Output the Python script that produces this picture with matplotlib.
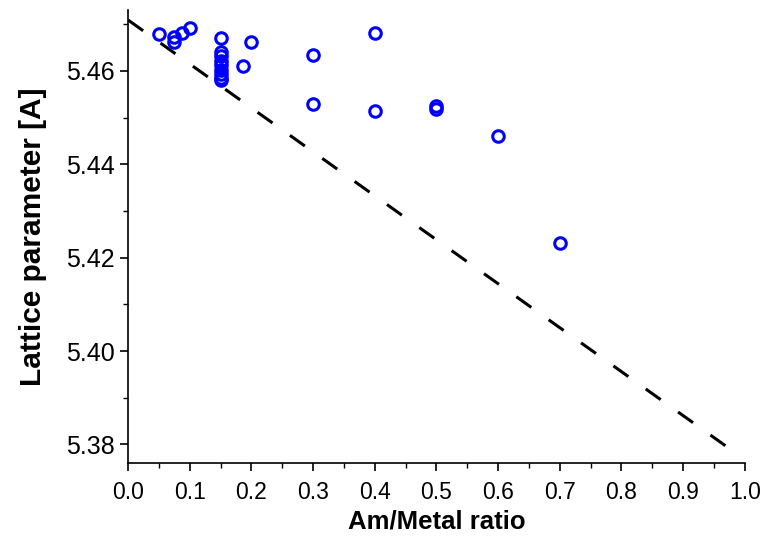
import matplotlib
matplotlib.use("Agg")
import matplotlib.pyplot as plt
from matplotlib.ticker import MultipleLocator

# Data
am_ratio = [0.05, 0.075, 0.075, 0.087, 0.10,
            0.15, 0.15, 0.15, 0.15, 0.15, 0.15, 0.15, 0.15, 0.15,
            0.186, 0.20, 0.30, 0.30, 0.40, 0.40, 0.50, 0.50, 0.60, 0.70]
lattice = [5.4680, 5.4662, 5.4672, 5.4681, 5.4691,
           5.4670, 5.4641, 5.4632, 5.4622, 5.4612, 5.4603, 5.4594, 5.4586, 5.4580,
           5.4611, 5.4661, 5.4634, 5.4530, 5.4682, 5.4514, 5.4526, 5.4519, 5.4460, 5.4231]

# Vegard-type reference line
line_x = [0.0, 0.97]
line_y = [5.4709, 5.3796]

plt.rcParams['font.family'] = ['Liberation Sans', 'DejaVu Sans']

fig = plt.figure(figsize=(7.63, 5.41), dpi=100)
ax = fig.add_axes([0.168, 0.144, 0.808, 0.837])

ax.plot(line_x, line_y, color='black', linestyle=(0, (6, 7)), linewidth=2.2,
        dash_capstyle='butt')
ax.plot(am_ratio, lattice, linestyle='none', marker='o', markersize=8.3,
        markerfacecolor='none', markeredgecolor='#0000ff', markeredgewidth=2.2)

ax.set_xlim(0.0, 1.0)
ax.set_ylim(5.376, 5.473)
ax.xaxis.set_major_locator(MultipleLocator(0.1))
ax.xaxis.set_minor_locator(MultipleLocator(0.05))
ax.yaxis.set_major_locator(MultipleLocator(0.02))
ax.yaxis.set_minor_locator(MultipleLocator(0.01))
ax.xaxis.set_major_formatter(plt.FormatStrFormatter('%.1f'))
ax.yaxis.set_major_formatter(plt.FormatStrFormatter('%.2f'))

for side in ['top', 'right']:
    ax.spines[side].set_visible(False)
for side in ['left', 'bottom']:
    ax.spines[side].set_linewidth(1.2)

ax.tick_params(which='major', direction='out', length=6, width=1.2)
ax.tick_params(axis='x', which='major', labelsize=16.5, pad=7)
ax.tick_params(axis='y', which='major', labelsize=18, pad=3.5)
ax.tick_params(which='minor', direction='out', length=3.5, width=1.0)

ax.set_xlabel('Am/Metal ratio', fontsize=18.5, fontweight='bold', labelpad=4)
ax.set_ylabel('Lattice parameter [A]', fontsize=21.5, fontweight='bold', labelpad=14)

fig.savefig('out.png', dpi=100)
